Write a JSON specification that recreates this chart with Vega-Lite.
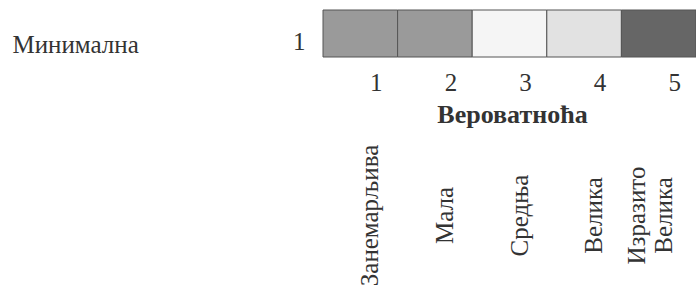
{
  "$schema": "https://vega.github.io/schema/vega-lite/v6.json",
  "width": 373,
  "height": 47,
  "autosize": "none",
  "padding": {"left": 323, "top": 10, "right": 0, "bottom": 239},
  "background": "white",
  "config": {"view": {"stroke": null}, "font": "Liberation Serif"},
  "data": {"values": [
    {"p": 1, "c": 1, "name": "Занемарљива", "zone": "A"},
    {"p": 2, "c": 1, "name": "Мала", "zone": "A"},
    {"p": 3, "c": 1, "name": "Средња", "zone": "B"},
    {"p": 4, "c": 1, "name": "Велика", "zone": "C"},
    {"p": 5, "c": 1, "name": "Изразито Велика", "zone": "D"}
  ]},
  "layer": [
    {
      "mark": {"type": "rect", "stroke": "#555555", "strokeWidth": 1},
      "encoding": {
        "x": {
          "field": "p", "type": "ordinal",
          "scale": {"paddingInner": 0, "paddingOuter": 0},
          "axis": {
            "labelAngle": 0, "ticks": false, "domain": false,
            "labelPadding": 13, "labelOffset": 16,
            "labelFont": "Liberation Serif", "labelFontSize": 25, "labelColor": "#333333",
            "title": "Вероватноћа", "titleFont": "Liberation Serif", "titleFontSize": 26,
            "titleFontWeight": "bold", "titleColor": "#333333",
            "titleX": 189, "titleY": 65, "titleBaseline": "alphabetic"
          }
        },
        "y": {
          "field": "c", "type": "ordinal",
          "scale": {"paddingInner": 0, "paddingOuter": 0},
          "axis": {
            "ticks": false, "domain": false, "labelPadding": 18, "labelOffset": 8,
            "labelFont": "Liberation Serif", "labelFontSize": 25, "labelColor": "#333333",
            "title": "Минимална", "titleAngle": 0, "titleAlign": "left",
            "titleX": -311, "titleY": 42, "titleBaseline": "alphabetic",
            "titleFont": "Liberation Serif", "titleFontSize": 25, "titleFontWeight": "normal",
            "titleColor": "#333333"
          }
        },
        "color": {
          "field": "zone", "type": "nominal",
          "scale": {"domain": ["A", "B", "C", "D"], "range": ["#9a9a9a", "#f5f5f5", "#e2e2e2", "#666666"]},
          "legend": null
        }
      }
    },
    {
      "mark": {"type": "rect", "opacity": 0},
      "encoding": {
        "x": {
          "field": "name", "type": "ordinal", "sort": {"field": "p"},
          "scale": {"paddingInner": 0, "paddingOuter": 0},
          "axis": {
            "orient": "bottom", "ticks": false, "domain": false,
            "labelAngle": 270, "labelAlign": "center", "labelBaseline": "middle",
            "labelPadding": 158,
            "labelOffset": {"condition": {"test": "datum.value == 'Изразито Велика'", "value": -22}, "value": 10},
            "labelExpr": "datum.value == 'Изразито Велика' ? ['Изразито', 'Велика'] : datum.value",
            "labelFont": "Liberation Serif", "labelFontSize": 25, "labelColor": "#333333",
            "labelLimit": 0, "labelOverlap": false, "title": null
          }
        }
      }
    }
  ],
  "resolve": {"scale": {"x": "independent"}, "axis": {"x": "independent"}}
}
